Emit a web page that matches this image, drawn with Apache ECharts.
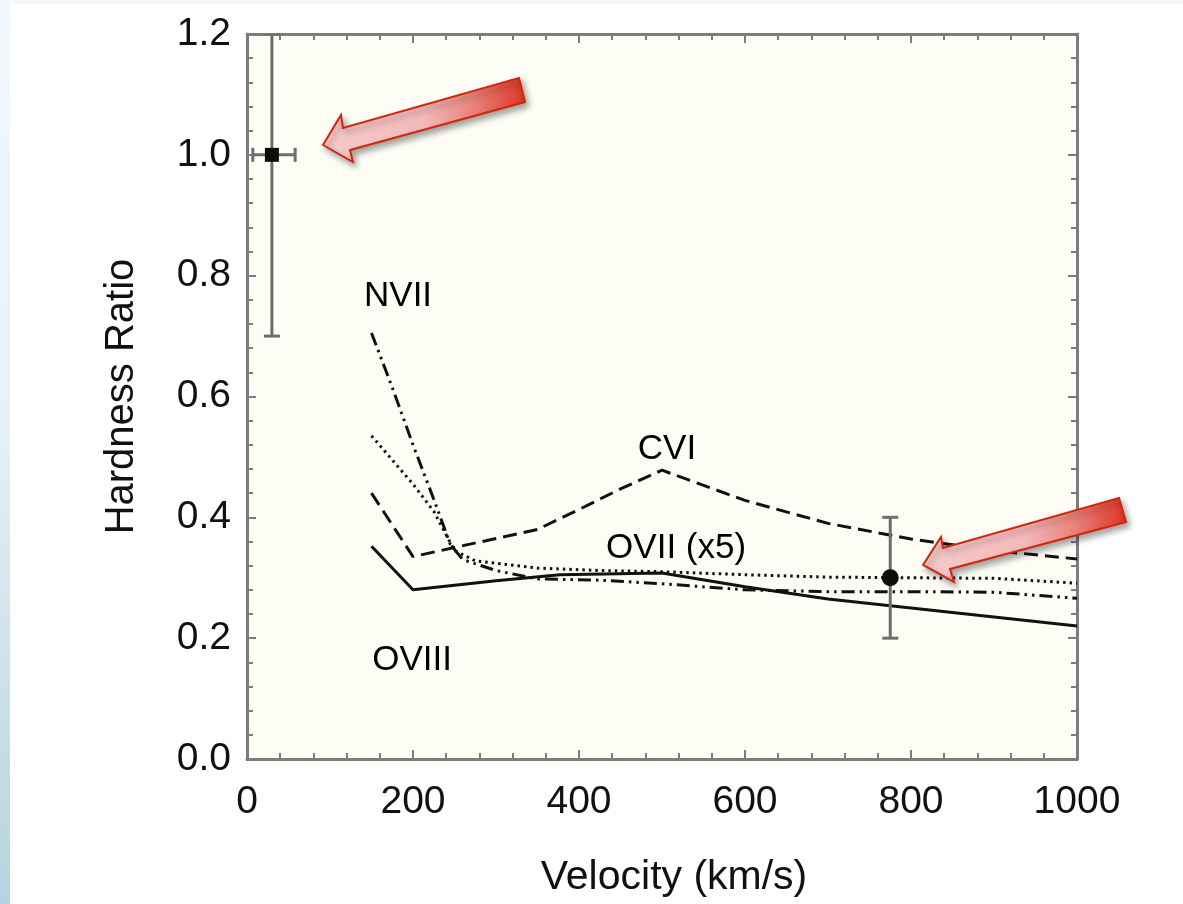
<!DOCTYPE html>
<html>
<head>
<meta charset="utf-8">
<script src="https://cdn.jsdelivr.net/npm/echarts@6/dist/echarts.min.js"></script>
<style>
  html, body { margin: 0; padding: 0; background: #ffffff; }
  #main { width: 1183px; height: 904px; }
</style>
</head>
<body>
<div id="main"></div>
<script>
// hardness ratio vs velocity, model curves
const oviiiX = [150, 200, 300, 377, 500, 600, 700, 800, 900, 1000];
const oviiiY = [0.352, 0.28, 0.295, 0.305, 0.308, 0.285, 0.265, 0.25, 0.235, 0.22];

const cviX = [150, 200, 250, 300, 350, 400, 450, 500, 600, 700, 800, 900, 1000];
const cviY = [0.44, 0.335, 0.35, 0.365, 0.38, 0.413, 0.447, 0.478, 0.428, 0.39, 0.364, 0.345, 0.331];

const nviiX = [150, 175, 200, 225, 245, 260, 300, 350, 425, 500, 600, 700, 800, 900, 1000];
const nviiY = [0.705, 0.615, 0.52, 0.43, 0.355, 0.33, 0.312, 0.298, 0.296, 0.29, 0.28, 0.277, 0.277, 0.276, 0.266];

const oviiX = [150, 175, 200, 225, 250, 275, 350, 425, 500, 600, 700, 800, 900, 1000];
const oviiY = [0.535, 0.495, 0.455, 0.41, 0.345, 0.328, 0.316, 0.312, 0.31, 0.305, 0.301, 0.3, 0.299, 0.291];

// observed points: x, y, x low, x high, y low, y high
const obsX = [30, 775];
const obsY = [1.0, 0.3];
const obsXLow = [7, 775];
const obsXHigh = [58, 775];
const obsYLow = [0.7, 0.2];
const obsYHigh = [1.2, 0.4];
const obsSymbol = ['rect', 'circle'];

// curve labels
const labelNames = ['NVII', 'CVI', 'OVII (x5)', 'OVIII'];
const labelX = [182, 506, 517, 199];
const labelY = [0.765, 0.512, 0.349, 0.164];

const xTicks = { min: 0, max: 1000, interval: 200 };
const yTicks = { min: 0, max: 1.2, interval: 0.2 };

const FONT = '"Liberation Sans", Arial, Helvetica, sans-serif';
const AXIS_GREY = '#7c7c7c';
const INK = '#111111';

function pairs(xs, ys) {
    return xs.map(function (x, i) { return [x, ys[i]]; });
}

let chart = echarts.init(document.getElementById('main'));

let axisCommon = {
    type: 'value',
    axisLine: { show: true, onZero: false, lineStyle: { color: AXIS_GREY, width: 3 } },
    axisTick: { show: true, inside: true, length: 9, lineStyle: { color: AXIS_GREY, width: 2 } },
    minorTick: { show: true, splitNumber: 5, length: 6, lineStyle: { color: AXIS_GREY, width: 2 } },
    splitLine: { show: false },
    minorSplitLine: { show: false }
};

function lineSeries(name, xs, ys, type) {
    return {
        name: name,
        type: 'line',
        data: pairs(xs, ys),
        showSymbol: false,
        symbol: 'none',
        smooth: false,
        silent: true,
        lineStyle: { color: INK, width: 3, type: type },
        z: 3
    };
}

let errData = obsX.map(function (x, i) {
    return [x, obsY[i], obsXLow[i], obsXHigh[i], obsYLow[i], obsYHigh[i]];
});

let option = {
    backgroundColor: '#ffffff',
    animation: false,
    textStyle: { fontFamily: FONT },
    grid: {
        left: 247, right: 106, top: 34, bottom: 145,
        show: true,
        backgroundColor: '#fdfdf6',
        borderWidth: 0,
        outerBoundsMode: 'none',
        containLabel: false
    },
    xAxis: [
        Object.assign({}, axisCommon, {
            position: 'bottom',
            min: xTicks.min, max: xTicks.max, interval: xTicks.interval,
            name: 'Velocity (km/s)',
            nameLocation: 'middle',
            nameGap: 98,
            nameTextStyle: { fontSize: 41, color: INK, fontFamily: FONT, padding: [0, 0, 0, 24] },
            axisLabel: {
                show: true, fontSize: 39, color: INK, margin: 24, fontFamily: FONT,
                formatter: function (v) { return String(v); }
            }
        }),
        Object.assign({}, axisCommon, {
            position: 'top',
            min: xTicks.min, max: xTicks.max, interval: xTicks.interval,
            axisLabel: { show: false }
        })
    ],
    yAxis: [
        Object.assign({}, axisCommon, {
            position: 'left',
            min: yTicks.min, max: yTicks.max, interval: yTicks.interval,
            name: 'Hardness Ratio',
            nameLocation: 'middle',
            nameGap: 105,
            nameTextStyle: { fontSize: 40, color: INK, fontFamily: FONT },
            axisLabel: {
                show: true, fontSize: 39, color: INK, margin: 16, fontFamily: FONT,
                formatter: function (v) { return v.toFixed(1); }
            }
        }),
        Object.assign({}, axisCommon, {
            position: 'right',
            min: yTicks.min, max: yTicks.max, interval: yTicks.interval,
            axisLabel: { show: false }
        })
    ],
    series: [
        lineSeries('OVIII', oviiiX, oviiiY, 'solid'),
        lineSeries('CVI', cviX, cviY, [14, 7]),
        lineSeries('NVII', nviiX, nviiY, [13, 5, 2.5, 5, 2.5, 5]),
        lineSeries('OVII', oviiX, oviiY, [2.5, 4]),
        {
            name: 'errors',
            type: 'custom',
            data: errData,
            clip: true,
            silent: true,
            z: 4,
            renderItem: function (params, api) {
                let x = api.value(0), y = api.value(1);
                let xl = api.value(2), xh = api.value(3);
                let yl = api.value(4), yh = api.value(5);
                let pLow = api.coord([x, yl]);
                let pHigh = api.coord([x, yh]);
                let cap = 8;
                let style = { stroke: '#6e6e6e', lineWidth: 3 };
                let kids = [
                    { type: 'line', shape: { x1: pLow[0], y1: pLow[1], x2: pHigh[0], y2: pHigh[1] }, style: style },
                    { type: 'line', shape: { x1: pLow[0] - cap, y1: pLow[1], x2: pLow[0] + cap, y2: pLow[1] }, style: style },
                    { type: 'line', shape: { x1: pHigh[0] - cap, y1: pHigh[1], x2: pHigh[0] + cap, y2: pHigh[1] }, style: style }
                ];
                if (xh > xl) {
                    let l = api.coord([xl, y]);
                    let h = api.coord([xh, y]);
                    kids.push({ type: 'line', shape: { x1: l[0], y1: l[1], x2: h[0], y2: h[1] }, style: style });
                    kids.push({ type: 'line', shape: { x1: l[0], y1: l[1] - 7, x2: l[0], y2: l[1] + 7 }, style: style });
                    kids.push({ type: 'line', shape: { x1: h[0], y1: h[1] - 7, x2: h[0], y2: h[1] + 7 }, style: style });
                }
                return { type: 'group', children: kids };
            }
        },
        {
            name: 'points',
            type: 'scatter',
            silent: true,
            z: 5,
            data: obsX.map(function (x, i) {
                return {
                    value: [x, obsY[i]],
                    symbol: obsSymbol[i],
                    symbolSize: obsSymbol[i] === 'rect' ? 14 : 17
                };
            }),
            itemStyle: { color: '#0d0d0d', opacity: 1 }
        },
        {
            name: 'labels',
            type: 'scatter',
            silent: true,
            symbolSize: 0,
            z: 6,
            data: labelX.map(function (x, i) {
                return { value: [x, labelY[i]], name: labelNames[i] };
            }),
            itemStyle: { opacity: 1 },
            label: {
                show: true,
                position: 'inside',
                formatter: '{b}',
                fontSize: 35,
                color: '#000000',
                opacity: 1,
                fontFamily: FONT
            }
        }
    ],
    graphic: [
        // page frame from the slide: thin band on top, blue strip at left
        {
            type: 'rect', silent: true, z: -1,
            shape: { x: 0, y: 0, width: 1183, height: 4 },
            style: { fill: '#f3f7fb' }
        },
        {
            type: 'rect', silent: true, z: -1,
            shape: { x: 0, y: 0, width: 10, height: 904 },
            style: {
                fill: {
                    type: 'linear', x: 0, y: 0, x2: 0, y2: 1,
                    colorStops: [
                        { offset: 0, color: '#f3f7fb' },
                        { offset: 0.45, color: '#e8f2f5' },
                        { offset: 1, color: '#b6d3df' }
                    ]
                }
            }
        },
        arrow([[323, 145], [341, 115], [343, 128], [519, 78], [525, 102], [350, 150], [353, 162]]),
        arrow([[923, 565], [941, 537], [943, 548], [1119, 498], [1126, 522], [950, 569], [954, 582]])
    ]
};

function arrow(points) {
    return {
        type: 'polygon',
        silent: true,
        z: 100,
        shape: { points: points },
        style: {
            fill: {
                type: 'linear', x: 0, y: 0, x2: 1, y2: 0,
                colorStops: [
                    { offset: 0, color: '#f6caca' },
                    { offset: 0.5, color: '#f2baba' },
                    { offset: 0.74, color: '#e9837b' },
                    { offset: 1, color: '#dd3424' }
                ]
            },
            stroke: '#d3260e',
            lineWidth: 2,
            shadowBlur: 6,
            shadowOffsetX: 3,
            shadowOffsetY: 4,
            shadowColor: 'rgba(0,0,0,0.35)'
        }
    };
}

chart.setOption(option);
</script>
</body>
</html>
